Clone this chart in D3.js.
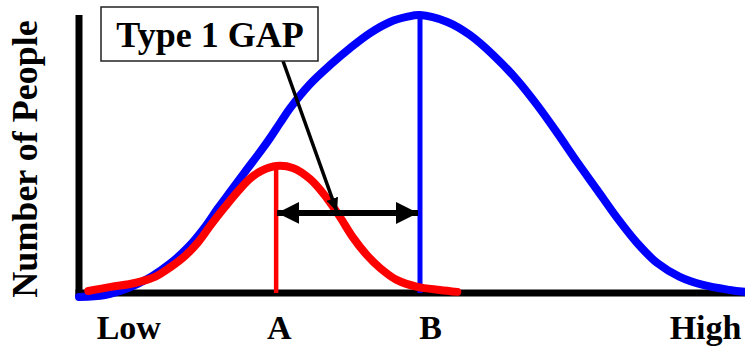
<!DOCTYPE html>
<html>
<head>
<meta charset="utf-8">
<script src="https://cdn.jsdelivr.net/npm/d3@7"></script>
<style>
  html, body { margin: 0; padding: 0; background: #fff; }
  svg { display: block; }
</style>
</head>
<body>
<svg id="chart" width="745" height="348"></svg>
<script>
'use strict'

// skill level (0 = low, 100 = high) vs number of people (0..100, peak = 100)
var whole_x = [0, 3.9, 7.4, 10.8, 13.8, 16.4, 18.9, 20.9, 22.8, 24.9, 27.3, 28.7, 30.2, 31.7, 34.7, 37.7, 40.7, 43.7, 46.7, 49.2, 51.2,
               55.3, 58.7, 62.2, 65.8, 68.8, 71.8, 74.8, 77.8, 80.8, 83.8, 86.8, 90.2, 93.7, 97.7, 100];
var whole_y = [-1.4, -0.7, 1.8, 5.8, 10.8, 16.5, 23.7, 30.6, 36.7, 43.5, 51.1, 55.8, 61.2, 66.5, 75.2, 82.0, 88.1, 93.5, 97.5, 99.3, 100,
               97.5, 92.8, 85.6, 76.6, 67.6, 57.6, 47.1, 37.1, 27.0, 18.0, 10.8, 5.8, 2.9, 1.1, 0.4];

var group_x = [1.4, 4.8, 8.4, 11.4, 13.8, 15.9, 17.9, 19.8, 21.9, 23.9, 25.8, 27.6, 29.6, 32.1, 34.7, 37.2, 39.2, 41.1, 43.2, 45.2, 47.7, 50.8, 54.2, 56.8];
var group_y = [0.7, 2.2, 3.6, 5.8, 9.4, 13.3, 18.3, 24.5, 30.9, 36.7, 41.4, 44.2, 45.7, 45.0, 41.0, 34.2, 27.3, 20.1, 13.7, 9.0, 4.7, 2.2, 1.1, 0.4];

var tick_labels = ['Low', 'A', 'B', 'High'];
var tick_values = [7.4, 30.0, 52.7, 94.0];

var peak_a = 29.6, peak_b = 51.2;
var gap_level = 28.8;
var note_text = 'Type 1 GAP';
var y_title = 'Number of People';

var FONT = "font-family:'Liberation Serif','Times New Roman',serif;font-weight:bold;fill:#000;";

var svg = d3.select('#chart');

var x = d3.scaleLinear().domain([0, 100]).range([79, 745]);
var y = d3.scaleLinear().domain([0, 100]).range([293, 15]);

var defs = svg.append('defs');
function addHead(id, len, half){
  defs.append('marker')
    .attr('id', id)
    .attr('markerUnits', 'userSpaceOnUse')
    .attr('viewBox', '0 0 ' + len + ' ' + (half * 2))
    .attr('refX', len).attr('refY', half)
    .attr('markerWidth', len).attr('markerHeight', half * 2)
    .attr('orient', 'auto-start-reverse')
    .append('path')
    .attr('d', 'M0,0L' + len + ',' + half + 'L0,' + (half * 2) + 'Z')
    .attr('fill', '#000');
}
addHead('bighead', 22, 11);
addHead('smallhead', 14, 6);

// axes
var xAxis = d3.axisBottom(x).tickValues(tick_values).tickSize(0).tickSizeOuter(0)
  .tickFormat(function(d, i){ return tick_labels[i]; });
var gx = svg.append('g').attr('transform', 'translate(0,' + y(0) + ')').call(xAxis);
gx.select('.domain').attr('stroke', '#000').attr('stroke-width', 7)
  .attr('d', 'M' + (x(0) - 3.5) + ',0H745');
gx.selectAll('.tick text')
  .attr('y', 46).attr('dy', 0)
  .attr('style', FONT + 'font-size:34px');

var yAxis = d3.axisLeft(y).tickValues([]).tickSize(0).tickSizeOuter(0);
var gy = svg.append('g').attr('transform', 'translate(' + x(0) + ',0)').call(yAxis);
gy.select('.domain').attr('stroke', '#000').attr('stroke-width', 7)
  .attr('d', 'M0,' + y(100) + 'V' + (y(0) + 3.5));

svg.append('text')
  .attr('transform', 'translate(37,159) rotate(-90)')
  .attr('text-anchor', 'middle')
  .attr('style', FONT + 'font-size:36px')
  .text(y_title);

// curves
var line = d3.line()
  .x(function(d){ return x(d[0]); })
  .y(function(d){ return y(d[1]); })
  .curve(d3.curveCatmullRom.alpha(0.5));

svg.append('path')
  .datum(d3.zip(whole_x, whole_y))
  .attr('d', line)
  .attr('fill', 'none')
  .attr('stroke', '#0000ff')
  .attr('stroke-width', 8)
  .attr('stroke-linecap', 'round');

svg.append('line')
  .attr('x1', x(peak_b)).attr('x2', x(peak_b))
  .attr('y1', y(100)).attr('y2', y(0))
  .attr('stroke', '#0000ff').attr('stroke-width', 5);

svg.append('path')
  .datum(d3.zip(group_x, group_y))
  .attr('d', line)
  .attr('fill', 'none')
  .attr('stroke', '#ff0000')
  .attr('stroke-width', 8)
  .attr('stroke-linecap', 'round');

var redTop = d3.max(group_y);
svg.append('line')
  .attr('x1', x(peak_a)).attr('x2', x(peak_a))
  .attr('y1', y(redTop)).attr('y2', y(0))
  .attr('stroke', '#ff0000').attr('stroke-width', 4.5);

// gap arrow
svg.append('line')
  .attr('x1', x(peak_a) + 1).attr('x2', x(peak_b) - 2)
  .attr('y1', y(gap_level)).attr('y2', y(gap_level))
  .attr('stroke', '#000').attr('stroke-width', 6)
  .attr('marker-start', 'url(#bighead)')
  .attr('marker-end', 'url(#bighead)');

// note box + pointer
svg.append('line')
  .attr('x1', 283).attr('y1', 61)
  .attr('x2', 337).attr('y2', y(gap_level) - 1)
  .attr('stroke', '#000').attr('stroke-width', 3.5)
  .attr('marker-end', 'url(#smallhead)');

svg.append('rect')
  .attr('x', 101).attr('y', 7).attr('width', 217).attr('height', 54)
  .attr('fill', '#fff').attr('stroke', '#222').attr('stroke-width', 1.5);

svg.append('text')
  .attr('x', 210).attr('y', 47)
  .attr('text-anchor', 'middle')
  .attr('style', FONT + 'font-size:36px')
  .text(note_text);
</script>
</body>
</html>
